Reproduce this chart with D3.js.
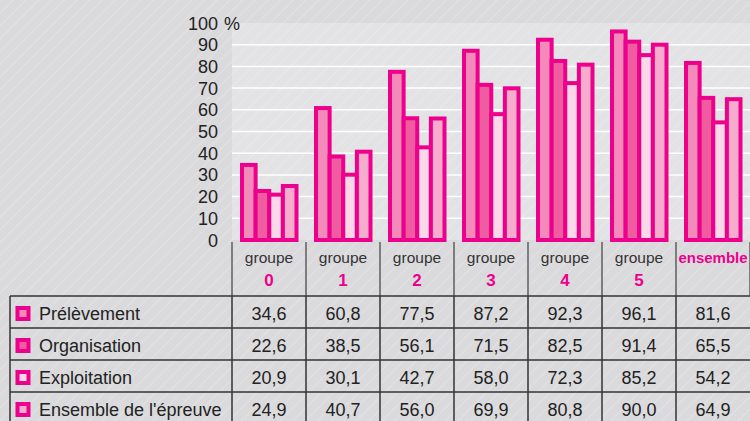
<!DOCTYPE html>
<html>
<head>
<meta charset="utf-8">
<script src="https://cdn.jsdelivr.net/npm/d3@7"></script>
<style>
  html, body { margin: 0; padding: 0; background: #dcdcde; }
  svg { display: block; font-family: "Liberation Sans", Arial, sans-serif; }
</style>
</head>
<body>
<div id="chart"></div>
<script>
const categories = ['0', '1', '2', '3', '4', '5', 'ensemble']
const seriesNames = ['Prélèvement', 'Organisation', 'Exploitation', "Ensemble de l'épreuve"]
const prelevement = [34.6, 60.8, 77.5, 87.2, 92.3, 96.1, 81.6]
const organisation = [22.6, 38.5, 56.1, 71.5, 82.5, 91.4, 65.5]
const exploitation = [20.9, 30.1, 42.7, 58.0, 72.3, 85.2, 54.2]
const ensembleEpreuve = [24.9, 40.7, 56.0, 69.9, 80.8, 90.0, 64.9]
const seriesValues = [prelevement, organisation, exploitation, ensembleEpreuve]
const yTicks = [0, 10, 20, 30, 40, 50, 60, 70, 80, 90, 100]

const fills = ['#f48ab9', '#ef5da0', '#fcd7e8', '#f7abcd']
const pink = '#ec008c'

const width = 750, height = 421
const svg = d3.select('#chart').append('svg')
  .attr('width', width).attr('height', height)

// hatched backgrounds
const defs = svg.append('defs')
function hatch(id, bg, line) {
  const p = defs.append('pattern')
    .attr('id', id).attr('patternUnits', 'userSpaceOnUse')
    .attr('width', 9).attr('height', 9)
    .attr('patternTransform', 'rotate(-45)')
  p.append('rect').attr('width', 9).attr('height', 9).attr('fill', bg)
  p.append('line').attr('x1', 0).attr('y1', 0).attr('x2', 9).attr('y2', 0)
    .attr('stroke', line).attr('stroke-width', 1.4)
}
hatch('bgHatch', '#dadadc', '#e6e6e8')
hatch('plotHatch', '#e3e3e5', '#ebebed')

svg.append('rect').attr('width', width).attr('height', height).attr('fill', 'url(#bgHatch)')

const x = d3.scaleBand().domain(categories).range([232, 750])
const x1 = d3.scaleBand().domain(d3.range(4)).range([10, x.bandwidth() - 9.5])
const y = d3.scaleLinear().domain([0, 100]).range([240, 23])

// plot area
svg.append('rect')
  .attr('x', x.range()[0]).attr('y', y(100))
  .attr('width', x.range()[1] - x.range()[0]).attr('height', y(0) - y(100))
  .attr('fill', 'url(#plotHatch)')

// grid
svg.append('g').selectAll('line')
  .data(yTicks.filter(d => d > 0 && d < 100))
  .join('line')
  .attr('x1', x.range()[0]).attr('x2', x.range()[1])
  .attr('y1', d => y(d)).attr('y2', d => y(d))
  .attr('stroke', '#ffffff').attr('stroke-width', 1.5)

// y tick labels
const yAxis = svg.append('g').attr('font-size', 18).attr('fill', '#222')
yAxis.selectAll('text')
  .data(yTicks)
  .join('text')
  .attr('x', 218)
  .attr('y', d => y(d) + 6.5)
  .attr('text-anchor', 'end')
  .text(d => d)
yAxis.append('text')
  .attr('x', 224).attr('y', y(100) + 6.5)
  .text('%')

// bars
const groups = svg.append('g').selectAll('g')
  .data(categories)
  .join('g')
  .attr('transform', d => `translate(${x(d)},0)`)

groups.selectAll('rect')
  .data((c, ci) => seriesValues.map((vals, si) => ({ si, v: vals[ci] })))
  .join('rect')
  .attr('x', d => x1(d.si))
  .attr('y', d => y(d.v))
  .attr('width', x1.bandwidth())
  .attr('height', d => y(0) - y(d.v))
  .attr('fill', d => fills[d.si])
  .attr('stroke', pink)
  .attr('stroke-width', 4)

// header labels under the plot
const header = svg.append('g')
header.selectAll('text.lab')
  .data(categories)
  .join('text')
  .attr('x', d => x(d) + x.bandwidth() / 2)
  .attr('y', 262.5)
  .attr('text-anchor', 'middle')
  .attr('font-size', d => d === 'ensemble' ? 15 : 15.5)
  .attr('font-weight', d => d === 'ensemble' ? 700 : 400)
  .attr('fill', d => d === 'ensemble' ? pink : '#333')
  .text(d => d === 'ensemble' ? 'ensemble' : 'groupe')
header.selectAll('text.num')
  .data(categories.filter(d => d !== 'ensemble'))
  .join('text')
  .attr('x', d => x(d) + x.bandwidth() / 2)
  .attr('y', 286)
  .attr('text-anchor', 'middle')
  .attr('font-size', 17)
  .attr('font-weight', 700)
  .attr('fill', pink)
  .text(d => d)

// header separators
svg.append('g').selectAll('line')
  .data(categories.concat(['end']))
  .join('line')
  .attr('x1', d => d === 'end' ? x.range()[1] : x(d))
  .attr('x2', d => d === 'end' ? x.range()[1] : x(d))
  .attr('y1', y(0) + 2).attr('y2', 296)
  .attr('stroke', '#7d7d7f').attr('stroke-width', 2)

// data table
const rowH = 32, tableTop = 296, tableLeft = 10
const table = svg.append('g')
table.selectAll('line.h')
  .data(d3.range(seriesNames.length + 1))
  .join('line')
  .attr('x1', tableLeft).attr('x2', width)
  .attr('y1', i => tableTop + i * rowH).attr('y2', i => tableTop + i * rowH)
  .attr('stroke', '#333').attr('stroke-width', 1.5)
table.selectAll('line.v')
  .data([tableLeft].concat(categories.map(c => x(c))))
  .join('line')
  .attr('x1', d => d).attr('x2', d => d)
  .attr('y1', tableTop).attr('y2', height)
  .attr('stroke', '#333').attr('stroke-width', 1.5)

const rows = table.selectAll('g.row')
  .data(seriesNames)
  .join('g')
  .attr('transform', (d, i) => `translate(0,${tableTop + i * rowH})`)

rows.append('rect')
  .attr('x', 17.5).attr('y', 12)
  .attr('width', 11).attr('height', 11)
  .attr('fill', (d, i) => fills[i])
  .attr('stroke', pink).attr('stroke-width', 4)
rows.append('text')
  .attr('x', 39).attr('y', 24)
  .attr('font-size', 18).attr('fill', '#222')
  .text(d => d)
rows.selectAll('text.val')
  .data((d, i) => seriesValues[i].map((v, ci) => ({ v, c: categories[ci] })))
  .join('text')
  .attr('x', d => x(d.c) + x.bandwidth() / 2)
  .attr('y', 24)
  .attr('text-anchor', 'middle')
  .attr('font-size', 18).attr('fill', '#222')
  .text(d => d.v.toFixed(1).replace('.', ','))
</script>
</body>
</html>
